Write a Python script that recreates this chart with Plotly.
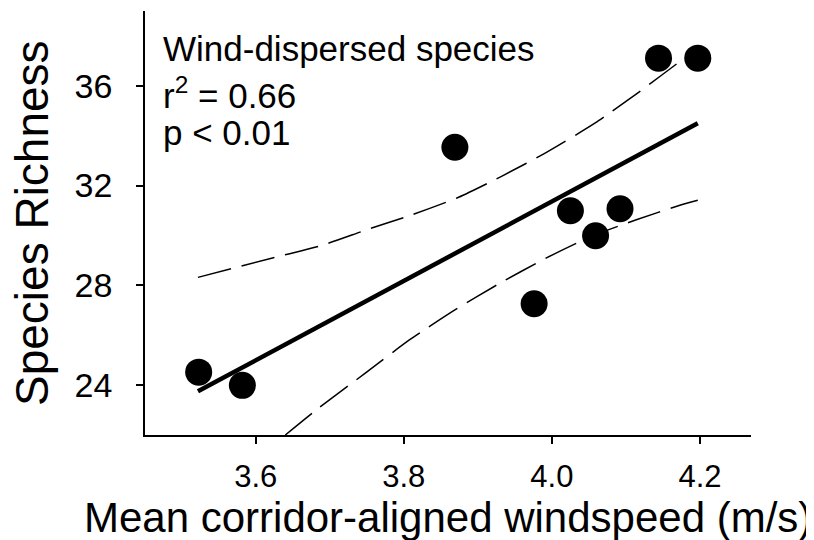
import plotly.graph_objects as go

wind_speed = [3.523, 3.582, 3.869, 3.976, 4.025, 4.059, 4.092, 4.144, 4.197]
richness = [24.52, 23.99, 33.54, 27.26, 30.99, 29.99, 31.07, 37.11, 37.11]

# Regression line (end points)
fit_x = [3.522, 4.197]
fit_y = [23.75, 34.50]

# 95% confidence bands
ci_upper_x = [3.522, 3.631, 3.689, 3.750, 3.811, 3.874, 3.932, 3.995, 4.058, 4.119, 4.179, 4.197]
ci_upper_y = [28.32, 29.16, 29.60, 30.23, 30.83, 31.53, 32.37, 33.37, 34.50, 35.78, 37.11, 37.47]
ci_lower_x = [3.640, 3.685, 3.748, 3.808, 3.869, 3.930, 3.992, 4.053, 4.114, 4.175, 4.197]
ci_lower_y = [22.00, 23.08, 24.48, 25.82, 27.02, 28.09, 29.09, 29.96, 30.63, 31.23, 31.41]

x_ticks = [3.6, 3.8, 4.0, 4.2]
x_tick_labels = ["3.6", "3.8", "4.0", "4.2"]
y_ticks = [24, 28, 32, 36]
y_tick_labels = ["24", "28", "32", "36"]

x_title = "Mean corridor-aligned windspeed (m/s)"
y_title = "Species Richness"
stats_lines = ["Wind-dispersed species", "r<sup>2</sup> = 0.66", "p < 0.01"]

FONT = "Liberation Sans, Arial, sans-serif"

fig = go.Figure()
dash = "34px,11px"
fig.add_trace(go.Scatter(x=ci_upper_x, y=ci_upper_y, mode="lines",
                         line=dict(color="black", width=1.5, dash=dash, shape="spline", smoothing=0.6)))
fig.add_trace(go.Scatter(x=ci_lower_x, y=ci_lower_y, mode="lines",
                         line=dict(color="black", width=1.5, dash=dash, shape="spline", smoothing=0.6)))
fig.add_trace(go.Scatter(x=fit_x, y=fit_y, mode="lines", line=dict(color="black", width=4.5)))
fig.add_trace(go.Scatter(x=wind_speed, y=richness, mode="markers",
                         marker=dict(color="black", size=27, line=dict(width=0))))

def px(xp):
    return (xp - 137) / 606
def py(yp):
    return (427 - yp) / 424

stat_y = [py(40), py(85), py(124.5)]
annotations = [
    dict(text=t, xref="paper", yref="paper", x=px(153), y=yy,
         xanchor="left", yanchor="middle", showarrow=False, font=dict(size=35, family=FONT))
    for t, yy in zip(stats_lines, stat_y)
]
annotations.append(dict(text=x_title, xref="paper", yref="paper", x=0.5, y=py(509),
                        xanchor="center", yanchor="middle", showarrow=False,
                        font=dict(size=42, family=FONT)))
annotations.append(dict(text=y_title, xref="paper", yref="paper", x=px(24), y=0.5,
                        xanchor="center", yanchor="middle", showarrow=False, textangle=-90,
                        font=dict(size=46, family=FONT)))

fig.update_layout(
    width=814, height=540,
    margin=dict(l=137, r=71, t=3, b=113, pad=0),
    paper_bgcolor="white", plot_bgcolor="white",
    showlegend=False,
    font=dict(family=FONT, color="black"),
    xaxis=dict(
        range=[3.4505, 4.2689], tickvals=x_ticks, ticktext=x_tick_labels,
        showline=True, linecolor="black", linewidth=1.5,
        ticks="outside", ticklen=7, tickwidth=1.5, tickcolor="black",
        showgrid=False, zeroline=False,
        tickfont=dict(size=31, family=FONT), ticklabelstandoff=6,
    ),
    yaxis=dict(
        range=[22, 39], tickvals=y_ticks, ticktext=y_tick_labels,
        showline=True, linecolor="black", linewidth=1.5,
        ticks="outside", ticklen=7, tickwidth=1.5, tickcolor="black",
        showgrid=False, zeroline=False,
        tickfont=dict(size=34, family=FONT), ticklabelstandoff=17,
    ),
    annotations=annotations,
)

fig.write_html("out.html")
